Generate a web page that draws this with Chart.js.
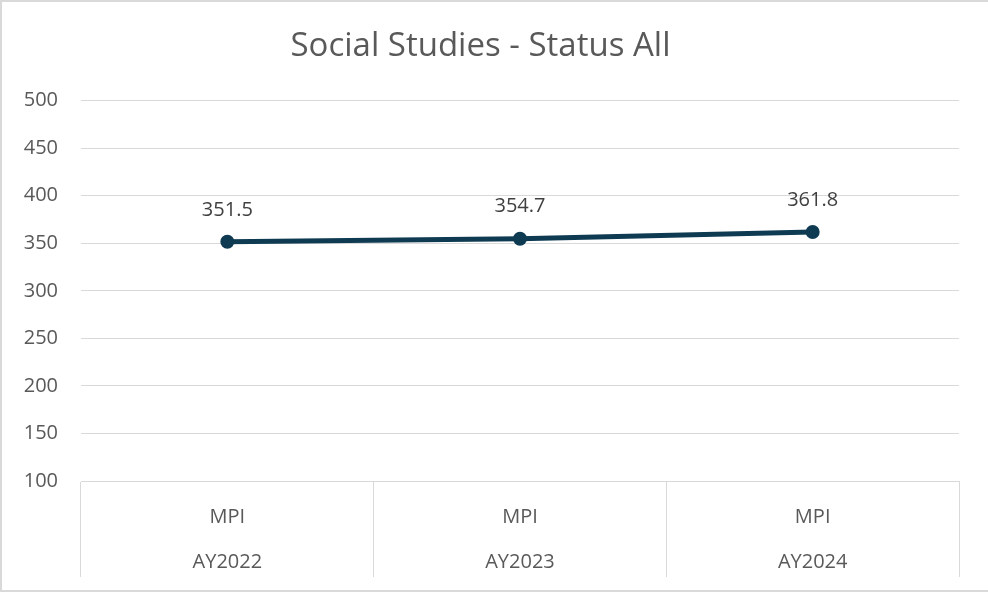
<!DOCTYPE html>
<html>
<head>
<meta charset="utf-8">
<script src="https://cdn.jsdelivr.net/npm/chart.js@4"></script>
<style>
    body { margin: 0; background: #fff; }
    #wrap {
        width: 988px; height: 592px; box-sizing: border-box;
        border: 2px solid #d9d9d9; border-right: none;
        position: relative; background: #fff;
    }
</style>
</head>
<body>
<div id="wrap"><canvas id="chart"></canvas></div>
<script>
// --- Data ---
const measures = ['MPI', 'MPI', 'MPI'];
const years = ['AY2022', 'AY2023', 'AY2024'];
const scores = [351.5, 354.7, 361.8];
const yTicks = [100, 150, 200, 250, 300, 350, 400, 450, 500];

const textColor = '#595959';
const gridColor = '#d9d9d9';
const lineColor = '#0f3b52';
const fontFamily = '"Open Sans", sans-serif';

// draws the value above each point, like Excel data labels
const valueLabels = {
    id: 'valueLabels',
    afterDatasetsDraw(chart) {
        const ctx = chart.ctx;
        const meta = chart.getDatasetMeta(0);
        ctx.save();
        ctx.font = '20px ' + fontFamily;
        ctx.fillStyle = '#404040';
        ctx.textAlign = 'center';
        ctx.textBaseline = 'middle';
        meta.data.forEach((pt, i) => {
            ctx.fillText(scores[i].toFixed(1), pt.x, pt.y - 32);
        });
        ctx.restore();
    }
};

const ctx = document.getElementById('chart').getContext('2d');
new Chart(ctx, {
    type: 'line',
    data: {
        labels: measures.map((m, i) => [m, years[i]]),
        datasets: [{
            label: 'Social Studies',
            data: scores,
            borderColor: lineColor,
            backgroundColor: lineColor,
            borderWidth: 5,
            pointRadius: 6,
            pointBorderWidth: 2,
            pointBackgroundColor: lineColor,
            pointBorderColor: lineColor,
            tension: 0
        }]
    },
    options: {
        responsive: true,
        maintainAspectRatio: false,
        animation: false,
        layout: { padding: { left: 0, right: 29, top: 0, bottom: 13 } },
        plugins: {
            legend: { display: false },
            tooltip: { enabled: false },
            title: {
                display: true,
                text: 'Social Studies - Status All',
                color: textColor,
                font: { family: fontFamily, size: 33, weight: 'normal', lineHeight: 1.2 },
                padding: { top: 25, bottom: 34 }
            }
        },
        scales: {
            x: {
                offset: true,
                grid: {
                    offset: true,
                    drawOnChartArea: false,
                    drawTicks: true,
                    tickLength: 96,
                    color: gridColor,
                    lineWidth: 1
                },
                border: { display: true, color: gridColor },
                ticks: {
                    color: textColor,
                    font: { family: fontFamily, size: 20, lineHeight: 2.25 },
                    padding: -82.5,
                    maxRotation: 0,
                    autoSkip: false
                },
                afterFit(scale) { scale.height = 96; }
            },
            y: {
                min: 100,
                max: 500,
                afterBuildTicks(scale) { scale.ticks = yTicks.map(v => ({ value: v })); },
                grid: { color: gridColor, lineWidth: 1, drawTicks: false },
                border: { display: false },
                ticks: {
                    color: textColor,
                    font: { family: fontFamily, size: 20 },
                    padding: 23
                },
                afterFit(scale) { scale.width = 79; }
            }
        }
    },
    plugins: [valueLabels]
});
</script>
</body>
</html>
